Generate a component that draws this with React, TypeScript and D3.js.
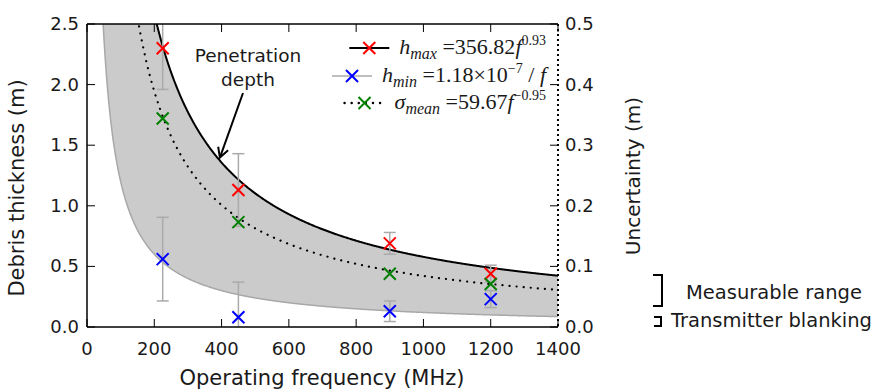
import React, { useEffect, useRef } from "react";
import * as d3 from "d3";

// observed points (MHz, m)
const freqs = [225, 450, 900, 1200];
const hMaxObs = [2.3, 1.13, 0.69, 0.44];
const hMaxErr = [0.34, 0.3, 0.09, 0.07];
const hMinObs = [0.56, 0.08, 0.13, 0.23];
const hMinErr = [0.345, 0.29, 0.085, 0.07];
const sigmaObs = [0.344, 0.173, 0.088, 0.071]; // right axis

// fitted curves from the legend
const hMaxCoef = 356.82, hMaxExp = -0.93;
const hMinCoef = 120; // lower edge of shaded band, ~1/f
const sigCoef = 59.67, sigExp = -0.95;

const xTicks = [0, 200, 400, 600, 800, 1000, 1200, 1400];
const yTicks = [0, 0.5, 1.0, 1.5, 2.0, 2.5];
const y2Ticks = [0, 0.1, 0.2, 0.3, 0.4, 0.5];

const W = 875, H = 389;
const M = { left: 87, right: 558, top: 24, bottom: 327 };
const SANS = "DejaVu Sans, sans-serif";
const SERIF = "Liberation Serif, DejaVu Serif, serif";

const App = () => {
  const svgRef = useRef<SVGSVGElement>(null);

  useEffect(() => {
    const svg = d3.select(svgRef.current);
    svg.selectAll("*").remove();

    const x = d3.scaleLinear().domain([0, 1400]).range([M.left, M.right]);
    const y = d3.scaleLinear().domain([0, 2.5]).range([M.bottom, M.top]);
    const y2 = d3.scaleLinear().domain([0, 0.5]).range([M.bottom, M.top]);

    svg.append("defs").append("clipPath").attr("id", "plotclip")
      .append("rect").attr("x", M.left).attr("y", M.top)
      .attr("width", M.right - M.left).attr("height", M.bottom - M.top);

    const g = svg.append("g").attr("clip-path", "url(#plotclip)");

    const fs = d3.range(20, 1401, 2);
    const hmax = (f: number) => hMaxCoef * Math.pow(f, hMaxExp);
    const hmin = (f: number) => hMinCoef / f;
    const sig = (f: number) => sigCoef * Math.pow(f, sigExp);

    g.append("path")
      .attr("d", d3.area<number>().x(d => x(d)).y0(d => y(Math.min(hmin(d), 3))).y1(d => y(Math.min(hmax(d), 3)))(fs) as string)
      .attr("fill", "#cbcbcb");

    g.append("path")
      .attr("d", d3.line<number>().x(d => x(d)).y(d => y(Math.min(hmin(d), 3)))(fs) as string)
      .attr("fill", "none").attr("stroke", "#a8a8a8").attr("stroke-width", 1.5);

    g.append("path")
      .attr("d", d3.line<number>().x(d => x(d)).y(d => y(Math.min(hmax(d), 3)))(fs) as string)
      .attr("fill", "none").attr("stroke", "#000").attr("stroke-width", 2);

    g.append("path")
      .attr("d", d3.line<number>().x(d => x(d)).y(d => y2(Math.min(sig(d), 0.6)))(fs) as string)
      .attr("fill", "none").attr("stroke", "#000").attr("stroke-width", 2.2)
      .attr("stroke-dasharray", "0.1,7").attr("stroke-linecap", "round");

    // error bars
    const errBar = (vals: number[], errs: number[]) => {
      vals.forEach((v, i) => {
        const cx = x(freqs[i]);
        const lo = y(v - errs[i]), hi = y(v + errs[i]);
        const eg = g.append("g").attr("stroke", "#aaaaaa").attr("stroke-width", 1.5);
        eg.append("line").attr("x1", cx).attr("x2", cx).attr("y1", lo).attr("y2", hi);
        eg.append("line").attr("x1", cx - 6).attr("x2", cx + 6).attr("y1", lo).attr("y2", lo);
        eg.append("line").attr("x1", cx - 6).attr("x2", cx + 6).attr("y1", hi).attr("y2", hi);
      });
    };
    errBar(hMaxObs, hMaxErr);
    errBar(hMinObs, hMinErr);

    const cross = (sel: any, cx: number, cy: number, color: string, r = 6) => {
      sel.append("path")
        .attr("d", `M${cx - r},${cy - r}L${cx + r},${cy + r}M${cx - r},${cy + r}L${cx + r},${cy - r}`)
        .attr("stroke", color).attr("stroke-width", 2).attr("fill", "none");
    };
    hMaxObs.forEach((v, i) => cross(g, x(freqs[i]), y(v), "#ff0000"));
    sigmaObs.forEach((v, i) => cross(g, x(freqs[i]), y2(v), "#008000"));
    hMinObs.forEach((v, i) => cross(g, x(freqs[i]), y(v), "#0000ff"));

    // frame
    const tl = 8;
    svg.append("line").attr("x1", M.left).attr("x2", M.left).attr("y1", M.top).attr("y2", M.bottom).attr("stroke", "#000").attr("stroke-width", 1.5);
    svg.append("line").attr("x1", M.left).attr("x2", M.right).attr("y1", M.bottom).attr("y2", M.bottom).attr("stroke", "#000").attr("stroke-width", 1.5);
    svg.append("line").attr("x1", M.left).attr("x2", M.right).attr("y1", M.top).attr("y2", M.top).attr("stroke", "#000").attr("stroke-width", 1.5);
    svg.append("line").attr("x1", M.right).attr("x2", M.right).attr("y1", M.top).attr("y2", M.bottom)
      .attr("stroke", "#000").attr("stroke-width", 2).attr("stroke-dasharray", "2,3");

    const tickStyle = (s: any) => s.attr("font-family", SANS).attr("font-size", 18).attr("fill", "#1a1a1a");

    xTicks.forEach(t => {
      const px = x(t);
      svg.append("line").attr("x1", px).attr("x2", px).attr("y1", M.bottom).attr("y2", M.bottom - tl).attr("stroke", "#000");
      svg.append("line").attr("x1", px).attr("x2", px).attr("y1", M.top).attr("y2", M.top + tl).attr("stroke", "#000");
      tickStyle(svg.append("text").attr("x", px).attr("y", M.bottom + 28).attr("text-anchor", "middle").text(String(t)));
    });
    yTicks.forEach(t => {
      const py = y(t);
      svg.append("line").attr("x1", M.left).attr("x2", M.left + tl).attr("y1", py).attr("y2", py).attr("stroke", "#000");
      tickStyle(svg.append("text").attr("x", M.left - 8).attr("y", py + 6).attr("text-anchor", "end").text(d3.format(".1f")(t)));
    });
    y2Ticks.forEach(t => {
      const py = y2(t);
      svg.append("line").attr("x1", M.right).attr("x2", M.right - tl).attr("y1", py).attr("y2", py).attr("stroke", "#000");
      tickStyle(svg.append("text").attr("x", M.right + 7).attr("y", py + 6).attr("text-anchor", "start").text(d3.format(".1f")(t)));
    });

    // axis labels
    const lab = (s: any, size: number) => s.attr("font-family", SANS).attr("font-size", size).attr("fill", "#1a1a1a");
    lab(svg.append("text").attr("x", 322).attr("y", 385).attr("text-anchor", "middle").text("Operating frequency (MHz)"), 21);
    lab(svg.append("text").attr("transform", `translate(24,${188}) rotate(-90)`).attr("text-anchor", "middle").text("Debris thickness (m)"), 21);
    lab(svg.append("text").attr("transform", `translate(640,${176}) rotate(-90)`).attr("text-anchor", "middle").text("Uncertainty (m)"), 20);

    // penetration depth annotation
    const ann = svg.append("g").attr("font-family", SANS).attr("font-size", 18.5).attr("fill", "#1a1a1a").attr("text-anchor", "middle");
    ann.append("text").attr("x", 248).attr("y", 62).text("Penetration");
    ann.append("text").attr("x", 248).attr("y", 86).text("depth");
    const ax0 = 243, ay0 = 93, ax1 = x(395), ay1 = y(hmax(395)) - 3;
    svg.append("line").attr("x1", ax0).attr("y1", ay0).attr("x2", ax1).attr("y2", ay1).attr("stroke", "#000").attr("stroke-width", 2);
    const ang = Math.atan2(ay1 - ay0, ax1 - ax0);
    const hl = 11;
    svg.append("path")
      .attr("d", `M${ax1 - hl * Math.cos(ang - 0.5)},${ay1 - hl * Math.sin(ang - 0.5)}L${ax1},${ay1}L${ax1 - hl * Math.cos(ang + 0.5)},${ay1 - hl * Math.sin(ang + 0.5)}`)
      .attr("stroke", "#000").attr("stroke-width", 2).attr("fill", "none");

    // legend, text right-aligned, handle just left of it
    const leg = svg.append("g");
    const legRight = 546;
    const rows = [
      { y: 48, color: "#ff0000", dash: null as string | null, lineColor: "#000", w: 2.2 },
      { y: 76, color: "#0000ff", dash: null, lineColor: "#a8a8a8", w: 1.5 },
      { y: 103, color: "#008000", dash: "0.1,7", lineColor: "#000", w: 2.4 },
    ];
    const mt = (r: typeof rows[0]) => leg.append("text").attr("x", legRight).attr("y", r.y + 6)
      .attr("text-anchor", "end").attr("font-family", SERIF).attr("font-size", 22).attr("fill", "#1a1a1a");
    const texts: any[] = [];
    let t = mt(rows[0]);
    t.append("tspan").attr("font-style", "italic").text("h");
    t.append("tspan").attr("font-style", "italic").attr("font-size", 16).attr("dy", 5).text("max");
    t.append("tspan").attr("dy", -5).text(" =356.82");
    t.append("tspan").attr("font-style", "italic").text("f");
    t.append("tspan").attr("font-size", 14).attr("dy", -9).text("0.93");
    texts.push(t);
    t = mt(rows[1]);
    t.append("tspan").attr("font-style", "italic").text("h");
    t.append("tspan").attr("font-style", "italic").attr("font-size", 16).attr("dy", 5).text("min");
    t.append("tspan").attr("dy", -5).text(" =1.18×10");
    t.append("tspan").attr("font-size", 14).attr("dy", -9).text("−7");
    t.append("tspan").attr("dy", 9).text(" / ");
    t.append("tspan").attr("font-style", "italic").text("f");
    texts.push(t);
    t = mt(rows[2]);
    t.append("tspan").attr("font-style", "italic").text("σ");
    t.append("tspan").attr("font-style", "italic").attr("font-size", 16).attr("dy", 5).text("mean");
    t.append("tspan").attr("dy", -5).text(" =59.67");
    t.append("tspan").attr("font-style", "italic").text("f");
    t.append("tspan").attr("font-size", 14).attr("dy", -9).text("−0.95");
    texts.push(t);
    rows.forEach((r, i) => {
      const x1 = texts[i].node().getBBox().x - 10;
      const x0 = x1 - 40;
      leg.append("line").attr("x1", x0).attr("x2", x1).attr("y1", r.y).attr("y2", r.y)
        .attr("stroke", r.lineColor).attr("stroke-width", r.w)
        .attr("stroke-dasharray", r.dash).attr("stroke-linecap", r.dash ? "round" : "butt");
      cross(leg, (x0 + x1) / 2, r.y, r.color);
    });

    // right-side range brackets
    const br = svg.append("g").attr("stroke", "#000").attr("stroke-width", 2).attr("fill", "none");
    br.append("path").attr("d", "M653,275H662V306H653");
    br.append("path").attr("d", "M654,317H661V326H654");
    const rt = svg.append("g").attr("font-family", SANS).attr("font-size", 19.5).attr("fill", "#1a1a1a");
    rt.append("text").attr("x", 686).attr("y", 299).text("Measurable range");
    rt.append("text").attr("x", 671).attr("y", 327).text("Transmitter blanking");
  }, []);

  return (
    <svg ref={svgRef} width={W} height={H} style={{ position: "absolute", left: 0, top: 0, background: "#fff" }} />
  );
};

export default App;
